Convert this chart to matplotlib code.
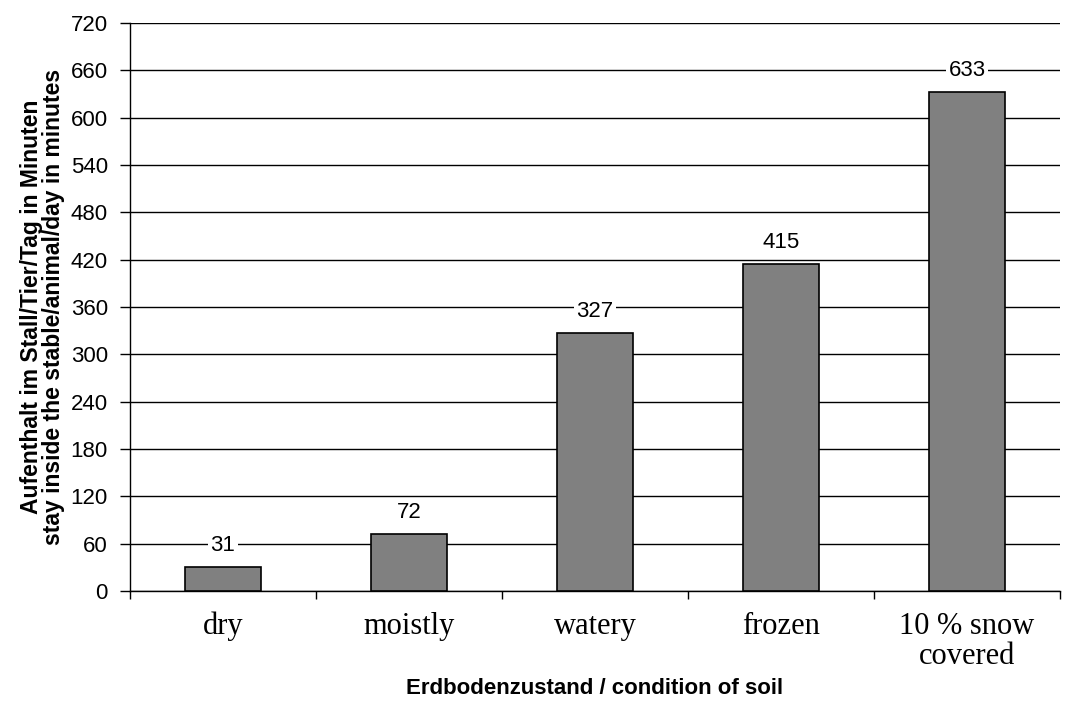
import matplotlib
matplotlib.use("Agg")
import matplotlib.pyplot as plt

categories = ["dry", "moistly", "watery", "frozen", "10 % snow\ncovered"]
values = [31, 72, 327, 415, 633]
yticks = list(range(0, 721, 60))

fig = plt.figure(figsize=(10.77, 7.02), dpi=100)
ax = fig.add_axes([130/1077, 111/702, 930/1077, 568/702])

x = list(range(len(categories)))
ax.bar(x, values, width=0.41, color="#808080", edgecolor="black", linewidth=1.2, zorder=3)
ax.set_xlim(-0.5, len(categories) - 0.5)
ax.set_ylim(0, 720)
ax.set_yticks(yticks)
ax.set_yticklabels([str(t) for t in yticks], fontsize=16, family="Liberation Sans")
ax.yaxis.grid(True, color="black", linewidth=1.0, zorder=0)
ax.set_axisbelow(True)

ax.set_xticks(x)
ax.set_xticklabels(categories, fontsize=22, family="Liberation Serif", linespacing=1.05)
ax.tick_params(axis="x", length=0, pad=15)
ax.set_xticks([i - 0.5 for i in range(len(categories) + 1)], minor=True)
ax.tick_params(axis="x", which="minor", length=6, width=1.0, direction="out")
ax.tick_params(axis="y", length=7, width=1.0, direction="out", pad=9)

for s in ["top", "right"]:
    ax.spines[s].set_visible(False)
for s in ["left", "bottom"]:
    ax.spines[s].set_linewidth(1.0)

for xi, v in zip(x, values):
    ax.text(xi, v + 27, str(v), ha="center", va="center", fontsize=16,
            family="Liberation Sans", zorder=4,
            bbox=dict(facecolor="white", edgecolor="none", pad=2))

ax.set_xlabel("Erdbodenzustand / condition of soil", fontsize=16, fontweight="bold",
              family="Liberation Sans")
ax.xaxis.set_label_coords(0.5, -0.153)
ax.set_ylabel("Aufenthalt im Stall/Tier/Tag in Minuten\nstay inside the stable/animal/day in minutes",
              fontsize=16.5, fontweight="bold", family="Liberation Sans",
              linespacing=0.95)
ax.yaxis.set_label_coords(-0.07, 0.5)

fig.savefig("out.png", dpi=100)
